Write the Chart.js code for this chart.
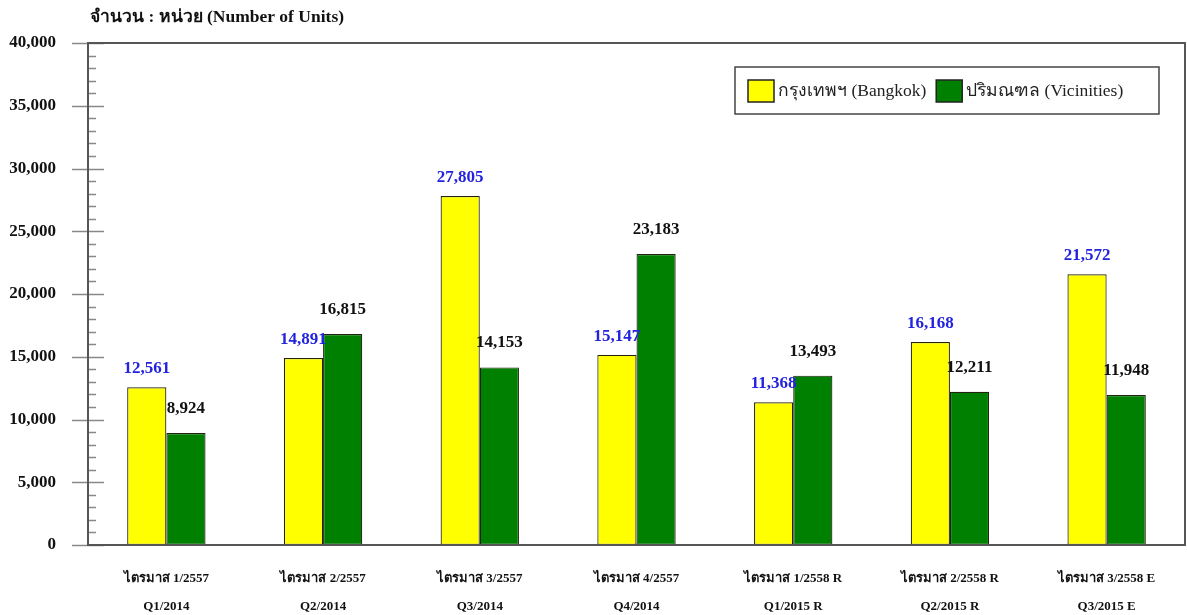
<!DOCTYPE html>
<html>
<head>
<meta charset="utf-8">
<script src="https://cdn.jsdelivr.net/npm/chart.js@4"></script>
<style>
    html, body { margin: 0; padding: 0; background: #fff; }
    #wrap { width: 1187px; height: 615px; }
</style>
</head>
<body>
<div id="wrap"><canvas id="unitsChart"></canvas></div>
<script>
// quarter labels (Thai line, English line)
const quartersTh = ["ไตรมาส 1/2557", "ไตรมาส 2/2557", "ไตรมาส 3/2557", "ไตรมาส 4/2557", "ไตรมาส 1/2558 R", "ไตรมาส 2/2558 R", "ไตรมาส 3/2558 E"];
const quartersEn = ["Q1/2014", "Q2/2014", "Q3/2014", "Q4/2014", "Q1/2015 R", "Q2/2015 R", "Q3/2015 E"];

const bangkokUnits = [12561, 14891, 27805, 15147, 11368, 16168, 21572];
const vicinityUnits = [8924, 16815, 14153, 23183, 13493, 12211, 11948];

const seriesNames = ["กรุงเทพฯ (Bangkok)", "ปริมณฑล (Vicinities)"];
const yTicks = [0, 5000, 10000, 15000, 20000, 25000, 30000, 35000, 40000];
const titleText = "จำนวน : หน่วย (Number of Units)";

const SERIF = "'Liberation Serif', 'Times New Roman', serif";

const colors = {
    bangkok: "#ffff00",
    vicinity: "#008000",
    barBorder: "#222211",
    frame: "#555555",
    tick: "#888888",
    bangkokLabel: "#2323e0",
    vicinityLabel: "#111111",
};

const fmt = (v) => v.toLocaleString("en-US");

// frame, y-axis tick marks, title, value labels and boxed legend
const decorations = {
    id: "decorations",
    afterDraw(chart) {
        const ctx = chart.ctx;
        const area = chart.chartArea;
        const y = chart.scales.y;
        ctx.save();

        // tick marks: major cross the axis, minor sit inside
        ctx.strokeStyle = colors.tick;
        ctx.lineWidth = 1.5;
        for (let v = 0; v <= 40000; v += 1000) {
            const py = Math.round(y.getPixelForValue(v)) + 0.5;
            const major = v % 5000 === 0;
            ctx.beginPath();
            ctx.moveTo(major ? area.left - 16 : area.left, py);
            ctx.lineTo(major ? area.left + 16 : area.left + 8, py);
            ctx.stroke();
        }

        // plot frame
        ctx.strokeStyle = colors.frame;
        ctx.lineWidth = 2;
        ctx.strokeRect(area.left, area.top, area.right - area.left, area.bottom - area.top);

        // title
        ctx.fillStyle = "#111";
        ctx.font = "bold 17.5px " + SERIF;
        ctx.textAlign = "left";
        ctx.textBaseline = "middle";
        ctx.fillText(titleText, area.left + 2, 17);

        // value labels above bars
        ctx.font = "bold 17px " + SERIF;
        ctx.textAlign = "center";
        ctx.textBaseline = "bottom";
        chart.data.datasets.forEach((ds, i) => {
            const meta = chart.getDatasetMeta(i);
            ctx.fillStyle = i === 0 ? colors.bangkokLabel : colors.vicinityLabel;
            meta.data.forEach((bar, j) => {
                ctx.fillText(fmt(ds.data[j]), bar.x, bar.y - (i === 0 ? 10 : 16));
            });
        });

        // legend box
        const lx = 735, ly = 67, lw = 424, lh = 47;
        ctx.fillStyle = "#fff";
        ctx.fillRect(lx, ly, lw, lh);
        ctx.strokeStyle = "#444";
        ctx.lineWidth = 1.5;
        ctx.strokeRect(lx, ly, lw, lh);
        ctx.font = "17.5px " + SERIF;
        ctx.textAlign = "left";
        ctx.textBaseline = "middle";
        let x = lx + 13;
        chart.data.datasets.forEach((ds) => {
            ctx.fillStyle = ds.backgroundColor;
            ctx.fillRect(x, ly + 13, 26, 22);
            ctx.strokeStyle = "#222";
            ctx.lineWidth = 1.5;
            ctx.strokeRect(x, ly + 13, 26, 22);
            ctx.fillStyle = "#222";
            ctx.fillText(ds.label, x + 30, ly + 24);
            x += 30 + ctx.measureText(ds.label).width + 10;
        });

        ctx.restore();
    },
};

new Chart(document.getElementById("unitsChart").getContext("2d"), {
    type: "bar",
    data: {
        labels: quartersTh.map((th, i) => [th, quartersEn[i]]),
        datasets: [
            {
                label: seriesNames[0],
                data: bangkokUnits,
                backgroundColor: colors.bangkok,
                borderColor: colors.barBorder,
                borderWidth: 1.2,
                borderSkipped: false,
                categoryPercentage: 0.5,
                barPercentage: 1.0,
            },
            {
                label: seriesNames[1],
                data: vicinityUnits,
                backgroundColor: colors.vicinity,
                borderColor: colors.barBorder,
                borderWidth: 1.2,
                borderSkipped: false,
                categoryPercentage: 0.5,
                barPercentage: 1.0,
            },
        ],
    },
    options: {
        responsive: true,
        maintainAspectRatio: false,
        animation: false,
        layout: {
            padding: { top: 43, right: 2, left: 0, bottom: 0 },
        },
        plugins: {
            legend: { display: false },
            title: { display: false },
            tooltip: { enabled: false },
        },
        scales: {
            x: {
                grid: { display: false },
                border: { display: false },
                ticks: {
                    color: "#111",
                    font: { family: SERIF, size: 13, weight: "bold", lineHeight: 2.15 },
                    padding: 12,
                    maxRotation: 0,
                    autoSkip: false,
                },
                afterFit(scale) {
                    scale.height = 70;
                },
            },
            y: {
                min: 0,
                max: 40000,
                afterBuildTicks(scale) {
                    scale.ticks = yTicks.map((v) => ({ value: v }));
                },
                grid: { display: false, drawTicks: false },
                border: { display: false },
                ticks: {
                    color: "#111",
                    font: { family: SERIF, size: 17, weight: "bold" },
                    padding: 32,
                    callback: (v) => fmt(v),
                },
                afterFit(scale) {
                    scale.width = 88;
                },
            },
        },
    },
    plugins: [decorations],
});
</script>
</body>
</html>
